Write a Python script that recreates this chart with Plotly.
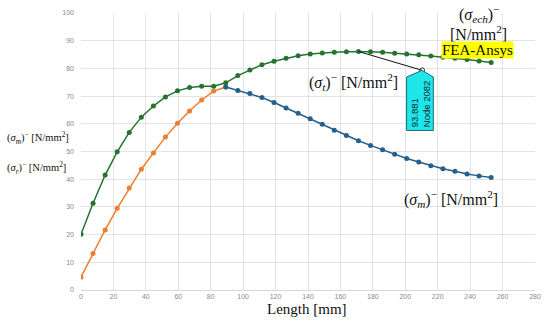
import plotly.graph_objects as go

# ---- data ----
length_mm = [0, 7.44, 14.88, 22.32, 29.76, 37.2, 44.64, 52.08, 59.52, 66.96, 74.4,
             81.84, 89.28, 96.72, 104.16, 111.6, 119.04, 126.48, 133.92, 141.36,
             148.8, 156.24, 163.68, 171.12, 178.56, 186.0, 193.44, 200.88, 208.32,
             215.76, 223.2, 230.64, 238.08, 245.52, 252.96]

sigma_ech = [20.1, 31.3, 41.5, 49.9, 56.9, 62.4, 66.4, 69.7, 71.9, 73.1, 73.6,
             73.6, 74.8, 77.4, 79.4, 81.3, 82.6, 83.7, 84.6, 85.2, 85.6, 85.8,
             86.0, 86.1, 86.0, 85.8, 85.5, 85.2, 84.9, 84.5, 84.0, 83.7, 83.2,
             82.7, 82.1]

length_r = length_mm[:13]
sigma_r = [4.6, 13.2, 21.7, 29.5, 36.8, 43.6, 49.5, 55.2, 60.2, 64.6, 68.6, 71.8, 73.3]

length_m = length_mm[12:]
sigma_m = [73.3, 72.0, 70.9, 69.5, 67.7, 65.7, 63.8, 61.8, 59.8, 57.7, 55.8, 53.9,
           52.2, 50.6, 49.0, 47.5, 46.2, 44.9, 43.8, 42.9, 41.9, 41.2, 40.6]

x_ticks = list(range(0, 281, 20))
y_ticks = list(range(0, 101, 10))

probe_value = "93.881"
probe_node = "Node 2082"
probe_src_index = 23          # green point the probe refers to
probe_tip = (210.4, 79.3)     # tip of the probe label

GREEN = "#267233"
ORANGE = "#ed7d31"
BLUE = "#25608c"
SERIF = "Liberation Serif, Times New Roman, serif"

fig = go.Figure()

fig.add_trace(go.Scatter(x=length_r, y=sigma_r, mode="lines+markers",
                         line=dict(color=ORANGE, width=1.5),
                         marker=dict(color=ORANGE, size=5), showlegend=False))
fig.add_trace(go.Scatter(x=length_m, y=sigma_m, mode="lines+markers",
                         line=dict(color=BLUE, width=1.5),
                         marker=dict(color=BLUE, size=5), showlegend=False))
fig.add_trace(go.Scatter(x=length_mm, y=sigma_ech, mode="lines+markers",
                         line=dict(color=GREEN, width=1.5),
                         marker=dict(color=GREEN, size=5), showlegend=False))

# probe leader line
sx, sy = length_mm[probe_src_index], sigma_ech[probe_src_index]
tx, ty = probe_tip
fig.add_trace(go.Scatter(x=[sx, tx], y=[sy, ty], mode="lines",
                         line=dict(color="#111111", width=1), showlegend=False,
                         hoverinfo="skip"))

# probe box (pentagon) in data coords
bx0, bx1 = 200.8, 217.3
by_sh, by_bot = 76.9, 57.6
fig.add_shape(type="path",
              path=f"M {bx0},{by_bot} L {bx0},{by_sh} L {tx},{ty} L {bx1},{by_sh} L {bx1},{by_bot} Z",
              fillcolor="#1fe6ea", line=dict(color="#1b6e78", width=1), layer="above")
fig.add_trace(go.Scatter(x=[tx], y=[ty], mode="markers",
                         marker=dict(size=5, color="rgba(0,0,0,0)",
                                     line=dict(color="#333333", width=1)),
                         showlegend=False, hoverinfo="skip"))

annotations = [
    dict(x=209.4, y=66.9, text=f"{probe_value}<br>{probe_node}", textangle=-90,
         align="left", showarrow=False,
         font=dict(family="Liberation Sans, Arial, sans-serif", size=9.5, color="#1a2a2a")),
    dict(x=245.6, y=99.8, text="(<i>σ<sub>ech</sub></i>)<sup>−</sup>", showarrow=False,
         font=dict(family=SERIF, size=16, color="#111")),
    dict(x=245.0, y=92.9, text="[N/mm<sup>2</sup>]", showarrow=False,
         font=dict(family=SERIF, size=16, color="#111")),
    dict(x=244.7, y=86.8, text="FEA-Ansys", showarrow=False, bgcolor="#ffff00",
         borderpad=0, font=dict(family=SERIF, size=15, color="#111")),
    dict(x=168.3, y=75.1, text="(<i>σ<sub>t</sub></i>)<sup>−</sup> [N/mm<sup>2</sup>]",
         showarrow=False, font=dict(family=SERIF, size=16, color="#111")),
    dict(x=228.0, y=33.0, text="(<i>σ<sub>m</sub></i>)<sup>−</sup> [N/mm<sup>2</sup>]",
         showarrow=False, font=dict(family=SERIF, size=16, color="#111")),
    dict(xref="paper", yref="paper", x=0.4975, y=-0.070, yanchor="middle",
         text="Length [mm]", showarrow=False,
         font=dict(family=SERIF, size=15, color="#111")),
    dict(xref="paper", yref="paper", x=-0.1684, y=0.547, xanchor="left", yanchor="middle",
         text="(<i>σ<sub>m</sub></i>)<sup>−</sup> [N/mm<sup>2</sup>]", showarrow=False,
         font=dict(family=SERIF, size=10.5, color="#111")),
    dict(xref="paper", yref="paper", x=-0.1684, y=0.440, xanchor="left", yanchor="middle",
         text="(<i>σ<sub>r</sub></i>)<sup>−</sup> [N/mm<sup>2</sup>]", showarrow=False,
         font=dict(family=SERIF, size=10.5, color="#111")),
]

fig.update_layout(
    width=550, height=322,
    margin=dict(l=81, r=9, t=10, b=32),
    paper_bgcolor="white", plot_bgcolor="white",
    annotations=annotations,
    hovermode=False,
    xaxis=dict(range=[0, 280], tickvals=x_ticks, showgrid=True, gridcolor="#e3e3e3",
               gridwidth=1, zeroline=False, showline=True, linecolor="#d9d9d9",
               tickfont=dict(size=7, color="#8a8a8a", family="Liberation Sans, Arial"),
               ticks="", fixedrange=True),
    yaxis=dict(range=[0, 100], tickvals=y_ticks, showgrid=True, gridcolor="#e3e3e3",
               gridwidth=1, zeroline=False, showline=False,
               tickfont=dict(size=7, color="#8a8a8a", family="Liberation Sans, Arial"),
               ticks="", ticklabelstandoff=6, fixedrange=True),
)

fig.write_html("out.html", config={"displayModeBar": False, "staticPlot": True},
               post_script="document.body.style.margin='0';document.body.style.overflow='hidden';")
